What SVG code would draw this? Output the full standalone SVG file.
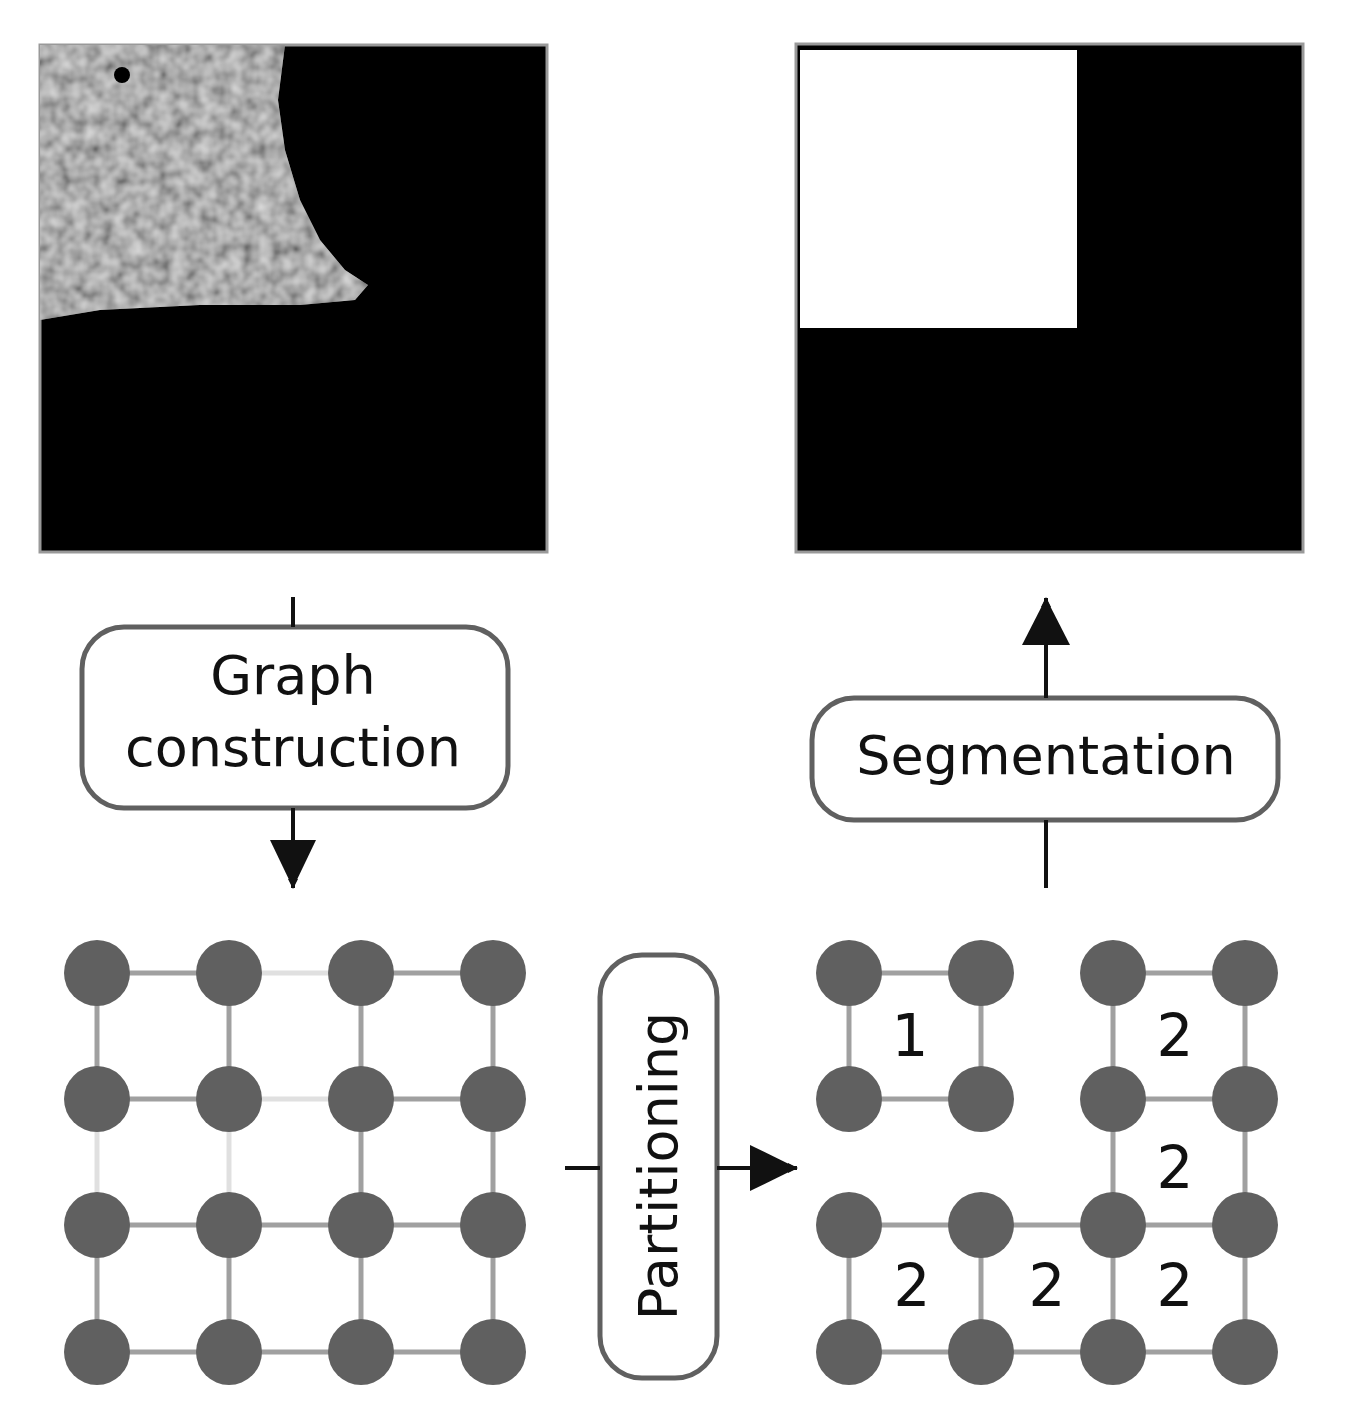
<svg xmlns="http://www.w3.org/2000/svg" width="1358" height="1424" viewBox="0 0 1358 1424">
<style>
.box{fill:#fff;stroke:#606060;stroke-width:5}
.t{font-family:"DejaVu Sans",sans-serif;font-size:54px;fill:#111;text-anchor:middle}
.n{fill:#606060}
.e{stroke:#a0a0a0;stroke-width:5}
.l{stroke:#e0e0e0;stroke-width:5}
.c{stroke:#111;stroke-width:4;fill:none}
</style>
<defs>
<marker id="ah" markerWidth="10" markerHeight="10" refX="9" refY="5" orient="auto" markerUnits="userSpaceOnUse" viewBox="0 0 10 10"><path d="M0,0L10,5L0,10z" fill="#111"/></marker>
<filter id="tex"><feTurbulence type="fractalNoise" baseFrequency="0.06" numOctaves="2" seed="3"/><feColorMatrix type="matrix" values="0 0 0 0 0.62  0 0 0 0 0.62  0 0 0 0 0.62  0 0 0 0 1"/><feComposite in2="SourceGraphic" operator="in"/></filter>
<filter id="tex2"><feTurbulence type="fractalNoise" baseFrequency="0.07" numOctaves="2" seed="7"/><feColorMatrix type="matrix" values="0 0 0 1.2 -0.1  0 0 0 1.2 -0.1  0 0 0 1.2 -0.1  0 0 0 0 1"/></filter>
<clipPath id="cp"><path d="M40,45L285,45L278,100L285,150L300,200L320,240L345,270L368,285L355,300L300,305L200,305L100,310L40,320Z"/></clipPath>
</defs>
<g id="input-image">
<rect x="40" y="45" width="507" height="507" fill="#000" stroke="#999" stroke-width="3"/>
<g clip-path="url(#cp)"><rect x="40" y="45" width="330" height="280" fill="#9a9a9a"/><rect x="40" y="45" width="330" height="280" filter="url(#tex2)" opacity="0.6"/></g>
<circle cx="122" cy="75" r="8" fill="#000"/>
</g>
<g id="output-image">
<rect x="796" y="44" width="507" height="508" fill="#000" stroke="#999" stroke-width="3"/>
<rect x="800" y="50" width="277" height="278" fill="#fff"/>
</g>
<g id="graph-construction"><rect class="box" x="82" y="627" width="426" height="181" rx="42"/><text class="t" x="293" y="694">Graph</text><text class="t" x="293" y="766">construction</text></g>
<g id="segmentation"><rect class="box" x="812" y="698" width="466" height="122" rx="42"/><text class="t" x="1046" y="774">Segmentation</text></g>
<g id="partitioning"><rect class="box" x="600" y="955" width="117" height="423" rx="42"/><text class="t" transform="translate(677,1166) rotate(-90)">Partitioning</text></g>
<g id="connectors">
<line class="c" x1="293" y1="597" x2="293" y2="627"/>
<line class="c" x1="293" y1="808" x2="293" y2="888" marker-end="url(#ah)" style="stroke-width:4"/>
<line class="c" x1="1046" y1="888" x2="1046" y2="820"/>
<line class="c" x1="1046" y1="698" x2="1046" y2="598" marker-end="url(#ah)"/>
<line class="c" x1="565" y1="1168" x2="600" y2="1168"/>
<line class="c" x1="717" y1="1168" x2="797" y2="1168" marker-end="url(#ah)"/>
</g>
<defs><marker id="big" viewBox="0 0 10 10" refX="10" refY="5" markerWidth="48" markerHeight="46" markerUnits="userSpaceOnUse" orient="auto"><path d="M0,0L10,5L0,10z" fill="#111"/></marker></defs>
<g id="arrowheads">
<path d="M270,840L316,840L293,888Z" fill="#111"/>
<path d="M1022,645L1070,645L1046,598Z" fill="#111"/>
<path d="M750,1145L750,1191L797,1168Z" fill="#111"/>
</g>
<g id="graph-left">
<g class="e">
<line x1="97" y1="973" x2="229" y2="973"/><line class="l" x1="229" y1="973" x2="361" y2="973"/><line x1="361" y1="973" x2="493" y2="973"/>
<line x1="97" y1="1099" x2="229" y2="1099"/><line class="l" x1="229" y1="1099" x2="361" y2="1099"/><line x1="361" y1="1099" x2="493" y2="1099"/>
<line x1="97" y1="1225" x2="493" y2="1225"/><line x1="97" y1="1352" x2="493" y2="1352"/>
<line x1="97" y1="973" x2="97" y2="1099"/><line x1="229" y1="973" x2="229" y2="1099"/><line x1="361" y1="973" x2="361" y2="1099"/><line x1="493" y1="973" x2="493" y2="1099"/>
<line class="l" x1="97" y1="1099" x2="97" y2="1225"/><line class="l" x1="229" y1="1099" x2="229" y2="1225"/><line x1="361" y1="1099" x2="361" y2="1225"/><line x1="493" y1="1099" x2="493" y2="1225"/>
<line x1="97" y1="1225" x2="97" y2="1352"/><line x1="229" y1="1225" x2="229" y2="1352"/><line x1="361" y1="1225" x2="361" y2="1352"/><line x1="493" y1="1225" x2="493" y2="1352"/>
</g>
<g class="n">
<circle cx="97" cy="973" r="33"/><circle cx="229" cy="973" r="33"/><circle cx="361" cy="973" r="33"/><circle cx="493" cy="973" r="33"/>
<circle cx="97" cy="1099" r="33"/><circle cx="229" cy="1099" r="33"/><circle cx="361" cy="1099" r="33"/><circle cx="493" cy="1099" r="33"/>
<circle cx="97" cy="1225" r="33"/><circle cx="229" cy="1225" r="33"/><circle cx="361" cy="1225" r="33"/><circle cx="493" cy="1225" r="33"/>
<circle cx="97" cy="1352" r="33"/><circle cx="229" cy="1352" r="33"/><circle cx="361" cy="1352" r="33"/><circle cx="493" cy="1352" r="33"/>
</g>
</g>
<g id="graph-right">
<g class="e">
<line x1="849" y1="973" x2="981" y2="973"/><line x1="849" y1="1099" x2="981" y2="1099"/><line x1="849" y1="973" x2="849" y2="1099"/><line x1="981" y1="973" x2="981" y2="1099"/>
<line x1="1113" y1="973" x2="1245" y2="973"/><line x1="1113" y1="1099" x2="1245" y2="1099"/><line x1="1113" y1="973" x2="1113" y2="1225"/><line x1="1245" y1="973" x2="1245" y2="1225"/>
<line x1="849" y1="1225" x2="1245" y2="1225"/><line x1="849" y1="1352" x2="1245" y2="1352"/>
<line x1="849" y1="1225" x2="849" y2="1352"/><line x1="981" y1="1225" x2="981" y2="1352"/><line x1="1113" y1="1225" x2="1113" y2="1352"/><line x1="1245" y1="1225" x2="1245" y2="1352"/>
</g>
<g class="n">
<circle cx="849" cy="973" r="33"/><circle cx="981" cy="973" r="33"/><circle cx="1113" cy="973" r="33"/><circle cx="1245" cy="973" r="33"/>
<circle cx="849" cy="1099" r="33"/><circle cx="981" cy="1099" r="33"/><circle cx="1113" cy="1099" r="33"/><circle cx="1245" cy="1099" r="33"/>
<circle cx="849" cy="1225" r="33"/><circle cx="981" cy="1225" r="33"/><circle cx="1113" cy="1225" r="33"/><circle cx="1245" cy="1225" r="33"/>
<circle cx="849" cy="1352" r="33"/><circle cx="981" cy="1352" r="33"/><circle cx="1113" cy="1352" r="33"/><circle cx="1245" cy="1352" r="33"/>
</g>
<g class="t" style="font-size:58px">
<text x="910" y="1056">1</text><text x="1175" y="1056">2</text><text x="1175" y="1188">2</text>
<text x="912" y="1306">2</text><text x="1047" y="1306">2</text><text x="1175" y="1306">2</text>
</g>
</g>
</svg>
